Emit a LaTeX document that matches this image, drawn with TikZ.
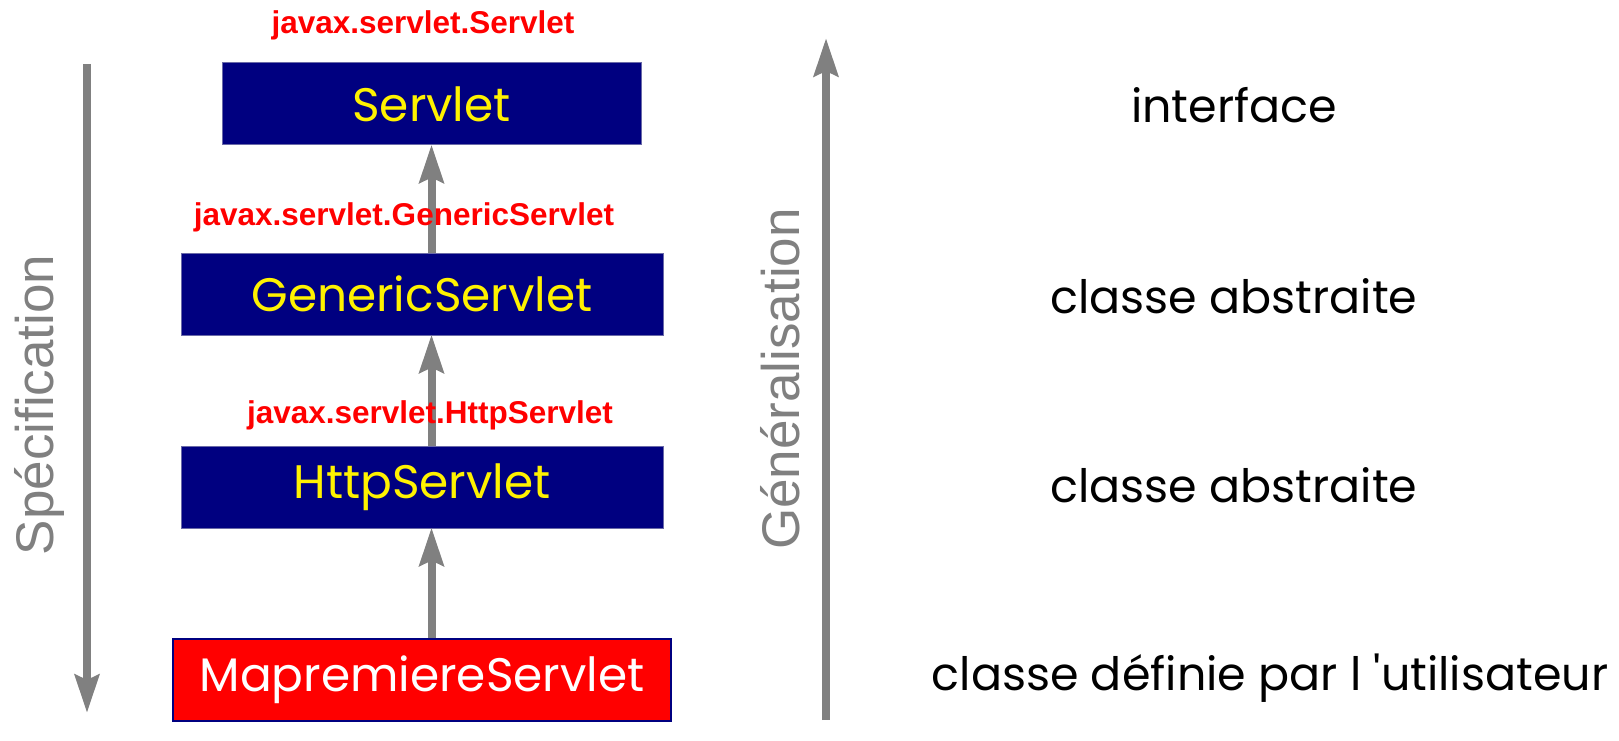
\documentclass[tikz,border=0pt]{standalone}
\usepackage{fontspec}
\setmainfont{Liberation Sans}
\newfontfamily\hand{Poppins}
\usetikzlibrary{arrows.meta}
\definecolor{navybox}{HTML}{000080}
\definecolor{boxedge}{HTML}{6A6AA8}
\definecolor{arrowgray}{HTML}{808080}
\definecolor{pkgred}{HTML}{FF0000}
\begin{document}
\begin{tikzpicture}[x=1pt,y=-1pt,
  classbox/.style={draw=boxedge, line width=1pt, fill=navybox, text=yellow,
    font=\hand\fontsize{47}{54}\selectfont, inner sep=0pt, minimum height=82pt},
  userbox/.style={classbox, draw=navybox, line width=2pt, fill=pkgred, text=white},
  pkg/.style={text=pkgred, font=\bfseries\fontsize{31.5}{36}\selectfont, inner sep=0pt},
  inh/.style={draw=arrowgray, line width=8pt,
    -{Stealth[length=38pt,width=24pt,inset=5pt]}, shorten >=-1pt},
  axis/.style={inh},
  axislabel/.style={text=arrowgray, font=\fontsize{53}{60}\selectfont, rotate=90, inner sep=0pt},
  kind/.style={text=black, font=\hand\fontsize{46}{54}\selectfont, inner sep=0pt}
]
\useasboundingbox (0,0) rectangle (1619,741);

% class hierarchy
\node[classbox, minimum width=419pt] (servlet) at (431.5,104) {Servlet};
\node[classbox, minimum width=482pt] (generic) at (422,294) {GenericServlet};
\node[classbox, minimum width=482pt] (http) at (422,487) {HttpServlet};
\node[userbox, minimum width=498pt] (mine) at (422,680) {MapremiereServlet};

% inheritance arrows
\draw[inh] (generic.north -| servlet.south) -- (servlet.south);
\draw[inh] (http.north -| servlet.south) -- (generic.south -| servlet.south);
\draw[inh] (mine.north -| servlet.south) -- (http.south -| servlet.south);

% package names
\node[pkg] (pServlet) at (423,25) {javax.servlet.Servlet};
\node[pkg] (pGeneric) at (404,217) {javax.servlet.GenericServlet};
\node[pkg] (pHttp) at (430,415) {javax.servlet.HttpServlet};

% side axes
\coordinate (specTop) at (87,64);
\coordinate (specEnd) at (87,712);
\draw[axis] (specTop) -- (specEnd);
\node[axislabel] (spec) at (39,405) {Spécification};

\coordinate (genBot) at (826,720);
\coordinate (genEnd) at (826,39);
\draw[axis] (genBot) -- (genEnd);
\node[axislabel] (gen) at (780,379) {Généralisation};

% kinds
\node[kind] (k1) at (1234,105) {interface};
\node[kind] (k2) at (1234,296) {classe abstraite};
\node[kind] (k3) at (1234,485) {classe abstraite};
\node[kind] (k4) at (1270,678) {classe définie par l 'utilisateur};
\end{tikzpicture}
\end{document}
